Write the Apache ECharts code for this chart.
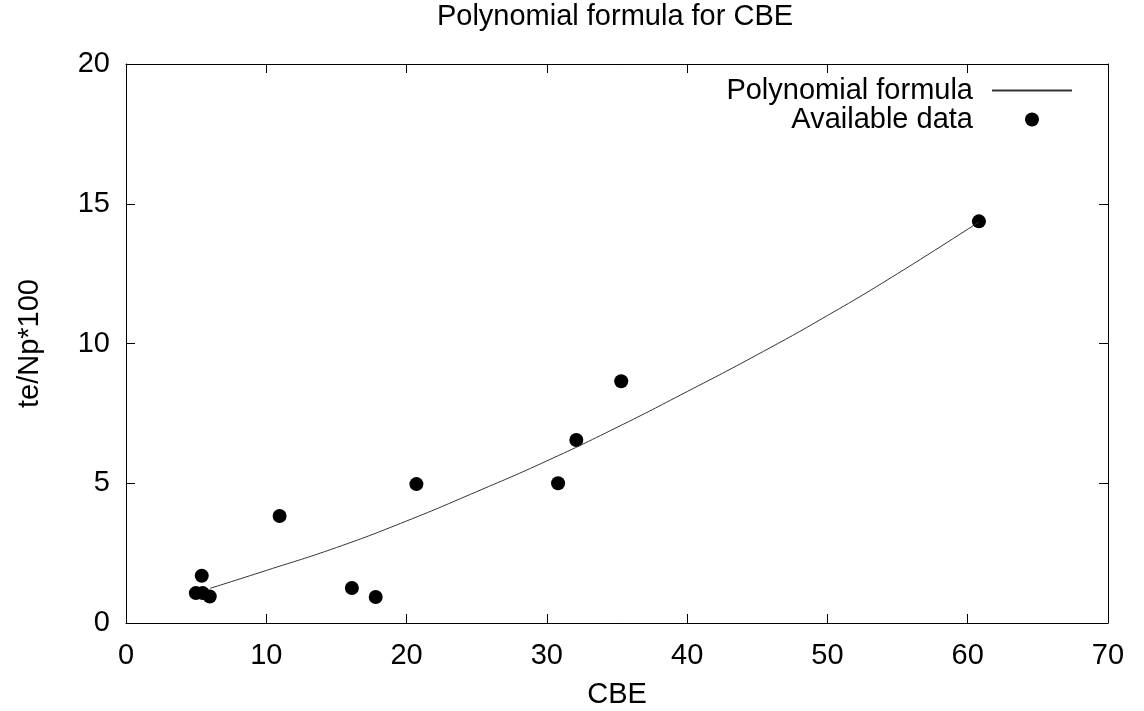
<!DOCTYPE html>
<html>
<head>
<meta charset="utf-8">
<title>Polynomial formula for CBE</title>
<script src="https://cdn.jsdelivr.net/npm/echarts@6/dist/echarts.min.js"></script>
<style>
  html, body { margin: 0; padding: 0; background: #fff; }
  #chart { width: 1144px; height: 711px; }
</style>
</head>
<body>
<div id="chart"></div>
<script>
// Fitted curve
var curveX = [6.0, 10, 15, 20, 25, 30, 35, 40, 45, 50, 55, 60.8];
var curveY = [1.24, 1.88, 2.70, 3.65, 4.70, 5.80, 7.00, 8.28, 9.60, 11.00, 12.50, 14.35];

// Measured points
var dataX = [4.98, 5.47, 5.40, 5.97, 10.95, 16.1, 17.8, 20.7, 30.8, 32.1, 35.3, 60.8];
var dataY = [1.07, 1.07, 1.69, 0.95, 3.83, 1.25, 0.93, 4.97, 5.0, 6.55, 8.65, 14.37];

var font = "'Liberation Sans', Arial, sans-serif";
var fs = 29;

function pairs(xs, ys) {
  return xs.map(function (x, i) { return [x, ys[i]]; });
}

var chart = echarts.init(document.getElementById("chart"));

// gnuplot style frame: ticks inside, mirrored on top and right
var tickStyle = { show: true, inside: true, length: 9, lineStyle: { color: "#000", width: 1 } };
var lineStyle = { show: true, onZero: false, lineStyle: { color: "#000", width: 1 } };

var option = {
  animation: false,
  backgroundColor: "#fff",
  title: {
    text: "Polynomial formula for CBE",
    left: 610,
    textAlign: "center",
    top: -3,
    textStyle: { fontFamily: font, fontSize: fs, fontWeight: "normal", color: "#000" }
  },
  legend: {
    orient: "vertical",
    align: "right",
    right: 66,
    top: 71,
    itemWidth: 80,
    itemHeight: 14,
    itemGap: 0,
    formatter: "{t|{name}}",
    textStyle: {
      fontFamily: font, fontSize: fs, color: "#000",
      rich: { t: { fontFamily: font, fontSize: fs, color: "#000", lineHeight: 27, padding: [0, 14, 0, 0] } }
    },
    data: [
      { name: "Polynomial formula", itemStyle: { opacity: 0 } },
      { name: "Available data" }
    ]
  },
  grid: { left: 126, right: 36, top: 64, bottom: 88, outerBoundsMode: "none", containLabel: false },
  xAxis: [
    {
      type: "value",
      min: 0, max: 70, interval: 10,
      name: "CBE",
      nameLocation: "middle",
      nameGap: 57,
      nameTextStyle: { fontFamily: font, fontSize: fs, color: "#000" },
      axisLine: lineStyle,
      axisTick: tickStyle,
      axisLabel: { fontFamily: font, fontSize: fs, color: "#000", margin: 18 },
      splitLine: { show: false }
    },
    {
      type: "value",
      position: "top",
      min: 0, max: 70, interval: 10,
      axisLine: lineStyle,
      axisTick: tickStyle,
      axisLabel: { show: false },
      splitLine: { show: false }
    }
  ],
  yAxis: [
    {
      type: "value",
      min: 0, max: 20, interval: 5,
      name: "te/Np*100",
      nameLocation: "middle",
      nameGap: 82,
      nameTextStyle: { fontFamily: font, fontSize: fs, color: "#000" },
      axisLine: lineStyle,
      axisTick: tickStyle,
      axisLabel: { fontFamily: font, fontSize: fs, color: "#000", margin: 16 },
      splitLine: { show: false }
    },
    {
      type: "value",
      position: "right",
      min: 0, max: 20, interval: 5,
      axisLine: lineStyle,
      axisTick: tickStyle,
      axisLabel: { show: false },
      splitLine: { show: false }
    }
  ],
  series: [
    {
      name: "Polynomial formula",
      type: "line",
      smooth: true,
      showSymbol: false,
      symbol: "none",
      color: "#333",
      lineStyle: { color: "#333", width: 1 },
      data: pairs(curveX, curveY)
    },
    {
      name: "Available data",
      type: "scatter",
      symbol: "circle",
      symbolSize: 14,
      color: "#000",
      itemStyle: { color: "#000", opacity: 1 },
      data: pairs(dataX, dataY)
    }
  ]
};

chart.setOption(option);
</script>
</body>
</html>
